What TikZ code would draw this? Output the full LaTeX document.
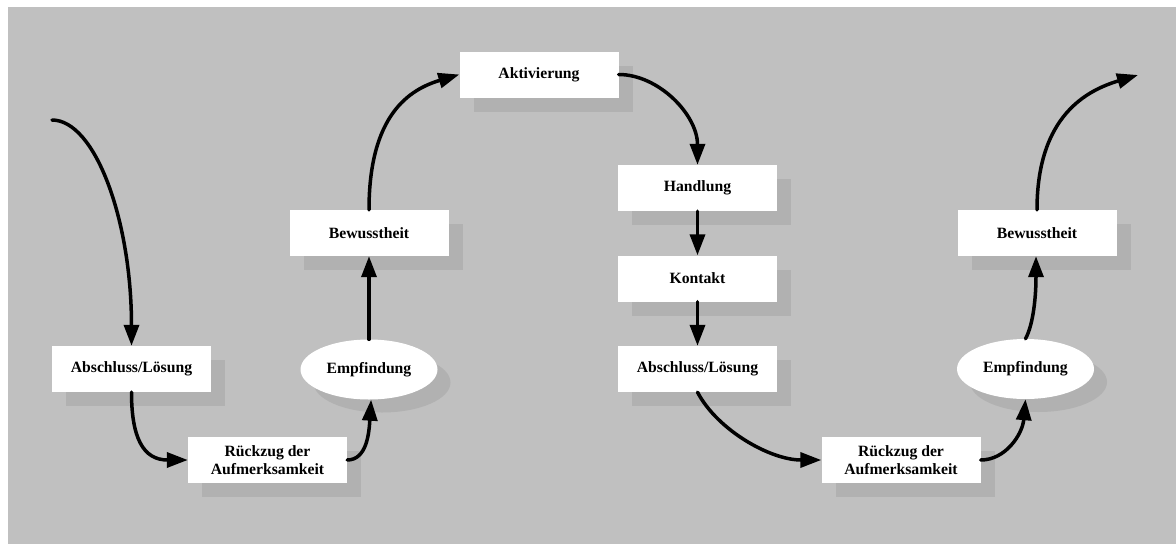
\documentclass[tikz,border=0pt]{standalone}
\usepackage{fontspec}
\setmainfont{Liberation Serif}
\usetikzlibrary{shadows,shapes.geometric,arrows.meta}
\definecolor{bggray}{RGB}{192,192,192}
\definecolor{shadowgray}{RGB}{177,177,177}
\tikzset{
  boxnode/.style={rectangle, fill=white, minimum width=159pt, minimum height=46pt,
    inner sep=0pt, align=center,
    font=\fontsize{15.7}{18}\selectfont\bfseries,
    drop shadow={shadow xshift=14pt, shadow yshift=-14pt, fill=shadowgray, opacity=1}},
  ellnode/.style={ellipse, fill=white, minimum width=137pt, minimum height=60pt,
    inner sep=0pt, align=center,
    font=\fontsize{15.7}{18}\selectfont\bfseries,
    drop shadow={shadow xshift=13pt, shadow yshift=-13pt, fill=shadowgray, opacity=1}},
  conn/.style={line width=3.5pt, line cap=round, -{Triangle[length=21pt,width=15pt]}}
}
\begin{document}
\begin{tikzpicture}[x=1pt,y=-1pt]
\useasboundingbox (0,0) rectangle (1176,544);
\fill[white] (0,0) rectangle (1176,544);
\fill[bggray] (8,7) rectangle (1176,544);

\node[boxnode] (a1) at (131.5,369) {Abschluss/Lösung};
\node[boxnode] (r1) at (267.5,460) {Rückzug der\\Aufmerksamkeit};
\node[ellnode] (e1) at (369,369.5) {Empfindung};
\node[boxnode] (b1) at (369,233) {Bewusstheit};
\node[boxnode] (akt) at (539,74.5) {Aktivierung};
\node[boxnode] (h) at (697.5,188) {Handlung};
\node[boxnode] (k) at (697.5,278.5) {Kontakt};
\node[boxnode] (a2) at (697.5,369) {Abschluss/Lösung};
\node[boxnode] (r2) at (901,460) {Rückzug der\\Aufmerksamkeit};
\node[ellnode] (e2) at (1025.5,369) {Empfindung};
\node[boxnode] (b2) at (1037,233) {Bewusstheit};

\coordinate (start) at (52,120);
\coordinate (finish) at (1138,75);

\draw[conn] (start) .. controls +(43,0) and +(0,-126) .. (a1.north);
\draw[conn] (a1.south) .. controls +(0,45) and +(-45,0) .. (r1.west);
\draw[conn] (r1.east) .. controls +(20,0) and +(-2,32) .. (e1.-86);
\draw[conn] (e1.north) -- (b1.south);
\draw[conn] (b1.north) .. controls +(0,-95) and +(-50,15) .. (akt.west);
\draw[conn] (akt.east) .. controls +(40,0) and +(0,-50) .. (h.north);
\draw[conn] (h.south) -- (k.north);
\draw[conn] (k.south) -- (a2.north);
\draw[conn] (a2.south) .. controls +(20,38) and +(-51,0) .. (r2.west);
\draw[conn] (r2.east) .. controls +(25,0) and +(-3,35) .. (e2.north |- e2.south);
\draw[conn] (e2.north) .. controls +(8,-15) and +(0,40) .. ([xshift=-1pt]b2.south);
\draw[conn] (b2.north) .. controls +(0,-95) and +(-50,15) .. (finish);
\end{tikzpicture}
\end{document}
